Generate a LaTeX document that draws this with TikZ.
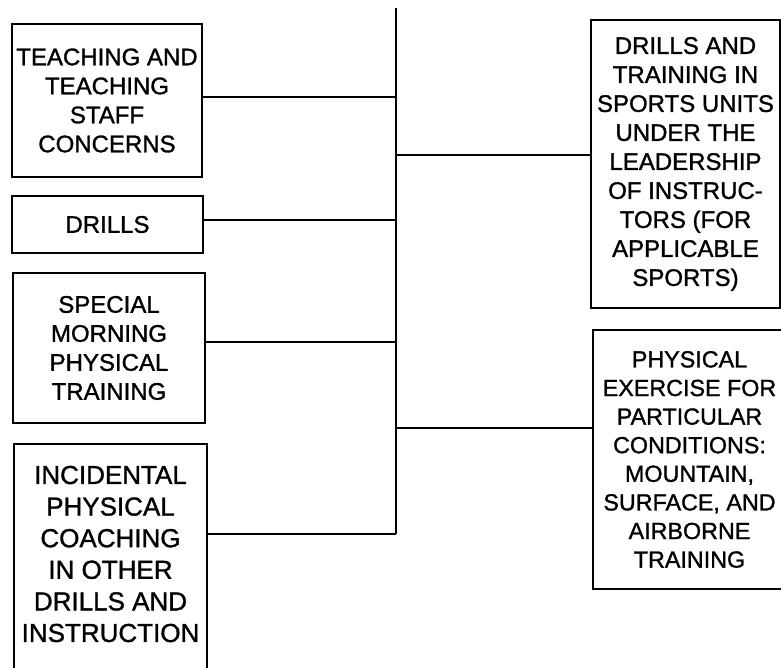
\documentclass[tikz,border=0pt]{standalone}
\usepackage{fontspec}
\setmainfont{Liberation Sans}[FakeBold=1.2]
\begin{document}
\begin{tikzpicture}[x=1pt,y=-1pt,
  boxstyle/.style={draw, line width=1.5pt, inner sep=0pt, align=center,
    font=\fontsize{24}{29}\selectfont},
  link/.style={line width=1.5pt}]
\useasboundingbox (0,0) rectangle (781,668);
\node (b1) [boxstyle, minimum width=190, minimum height=153] at (107,100.5)
  {TEACHING AND\\TEACHING\\STAFF\\CONCERNS};
\node (b2) [boxstyle, minimum width=191, minimum height=57] at (107.5,224.5)
  {DRILLS};
\node (b3) [boxstyle, minimum width=192, minimum height=150] at (109,348)
  {SPECIAL\\MORNING\\PHYSICAL\\TRAINING};
\node (b4) [boxstyle, minimum width=193, minimum height=270, anchor=north] at (110.5,443) {};
\node (b4t) [align=center, inner sep=0pt, font=\fontsize{26}{31.6}\selectfont] at (110.5,554)
  {INCIDENTAL\\PHYSICAL\\COACHING\\IN OTHER\\DRILLS AND\\INSTRUCTION};
\node (r1) [boxstyle, minimum width=189, minimum height=288] at (685.5,164)
  {DRILLS AND\\TRAINING IN\\SPORTS UNITS\\UNDER THE\\LEADERSHIP\\OF INSTRUC-\\TORS (FOR\\APPLICABLE\\SPORTS)};
\node (r2) [boxstyle, minimum width=193, minimum height=259,
  font=\fontsize{23.3}{28.6}\selectfont] at (689.5,459.5)
  {PHYSICAL\\EXERCISE FOR\\PARTICULAR\\CONDITIONS:\\MOUNTAIN,\\SURFACE, AND\\AIRBORNE\\TRAINING};
\coordinate (top) at (396,8);
\coordinate (j1) at (396,97);
\coordinate (j2) at (396,220);
\coordinate (j3) at (396,342);
\coordinate (j4) at (396,534);
\coordinate (k1) at (396,155);
\coordinate (k2) at (396,428);
\draw[link] (top) -- (j4);
\draw[link] (j1 -| b1.east) -- (j1);
\draw[link] (j2 -| b2.east) -- (j2);
\draw[link] (j3 -| b3.east) -- (j3);
\draw[link] (j4 -| b4.east) -- (j4);
\draw[link] (k1) -- (k1 -| r1.west);
\draw[link] (k2) -- (k2 -| r2.west);
\end{tikzpicture}
\end{document}
